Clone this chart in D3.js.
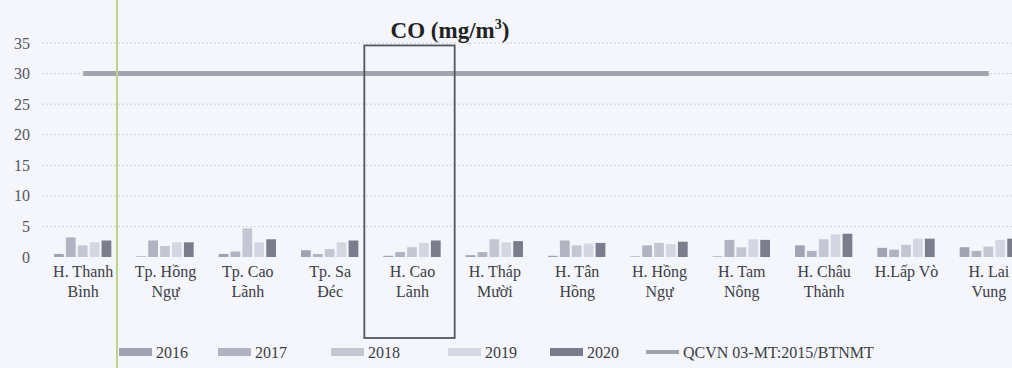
<!DOCTYPE html>
<html>
<head>
<meta charset="utf-8">
<script src="https://cdn.jsdelivr.net/npm/d3@7"></script>
<style>
  body { margin: 0; background: #f3f5fa; }
  svg { display: block; font-family: "Liberation Serif", "DejaVu Serif", serif; }
</style>
</head>
<body>
<div class="chart"></div>
<script>
// ======= CO concentration by district, 2016-2020 ===========

const categories = ['H. Thanh Bình', 'Tp. Hồng Ngự', 'Tp. Cao Lãnh', 'Tp. Sa Đéc', 'H. Cao Lãnh',
  'H. Tháp Mười', 'H. Tân Hồng', 'H. Hồng Ngự', 'H. Tam Nông', 'H. Châu Thành', 'H.Lấp Vò', 'H. Lai Vung']
const years = ['2016', '2017', '2018', '2019', '2020']
const v2016 = [0.5, 0.1, 0.5, 1.1, 0.2, 0.3, 0.2, 0.1, 0.1, 1.9, 1.5, 1.6]
const v2017 = [3.2, 2.7, 0.9, 0.5, 0.8, 0.8, 2.7, 1.9, 2.8, 1.0, 1.2, 1.0]
const v2018 = [1.9, 1.8, 4.7, 1.3, 1.6, 2.9, 1.9, 2.3, 1.6, 2.9, 2.0, 1.7]
const v2019 = [2.4, 2.4, 2.4, 2.4, 2.3, 2.4, 2.2, 2.1, 2.9, 3.7, 3.0, 2.8]
const v2020 = [2.7, 2.4, 2.9, 2.7, 2.7, 2.6, 2.3, 2.5, 2.8, 3.8, 3.0, 3.0]
const qcvn = 30
const yTicks = [0, 5, 10, 15, 20, 25, 30, 35]
const highlighted = 'H. Cao Lãnh'

const series = [v2016, v2017, v2018, v2019, v2020]
const colors = ['#a2a2b2', '#b2b2c0', '#c6c6d2', '#d6d6e2', '#7c7c8c']
const textColor = '#3c3c46'

const W = 1012
const H = 368
const margin = { top: 42, left: 42, bottom: 111 }
const plotRight = 1030
const baseY = H - margin.bottom

const svg = d3.select('.chart')
  .append('svg')
    .attr('width', W)
    .attr('height', H)

svg.append('rect').attr('width', W).attr('height', H).attr('fill', '#f4f6fb')

const x = d3.scaleBand()
  .domain(categories)
  .range([margin.left, plotRight])

const x1 = d3.scaleBand()
  .domain(years)
  .range([12, x.bandwidth() - 13])
  .paddingInner(0.18)

const y = d3.scaleLinear()
  .domain([0, 35])
  .range([baseY, 43])

// gridlines
svg.append('g')
  .selectAll('line')
  .data(yTicks.filter(d => d > 0))
  .join('line')
    .attr('x1', margin.left)
    .attr('x2', W)
    .attr('y1', d => y(d))
    .attr('y2', d => y(d))
    .attr('stroke', '#cdd1de')
    .attr('stroke-dasharray', '2,2')

// y axis
const yAxis = svg.append('g')
  .attr('transform', `translate(${margin.left - 12}, 0)`)
  .call(d3.axisLeft(y).tickValues(yTicks).tickSize(0).tickPadding(0))
yAxis.attr('font-family', null)
yAxis.select('.domain').remove()
yAxis.selectAll('text')
  .attr('font-size', 16)
  .attr('fill', '#55555f')

// bars
const groups = svg.append('g')
  .selectAll('g')
  .data(series)
  .join('g')
    .attr('fill', (d, i) => colors[i])

groups.selectAll('rect')
  .data((d, i) => d.map((v, j) => ({ cat: categories[j], year: years[i], v })))
  .join('rect')
    .attr('x', d => x(d.cat) + x1(d.year))
    .attr('width', x1.bandwidth())
    .attr('y', d => y(d.v))
    .attr('height', d => baseY - y(d.v))

// QCVN limit line
svg.append('line')
  .attr('x1', x(categories[0]) + x.bandwidth() / 2)
  .attr('x2', x(categories[categories.length - 1]) + x.bandwidth() / 2)
  .attr('y1', y(qcvn))
  .attr('y2', y(qcvn))
  .attr('stroke', '#a4a4b0')
  .attr('stroke-width', 5)

// x axis labels
const xAxis = svg.append('g')
  .attr('transform', `translate(0, ${baseY + 4})`)
  .call(d3.axisBottom(x).tickSize(0).tickPadding(0))
xAxis.attr('font-family', null)
xAxis.select('.domain').remove()
xAxis.selectAll('text')
  .attr('font-size', 16)
  .attr('fill', textColor)
  .call(wrap, 64)

function wrap(texts, width) {
  texts.each(function () {
    const text = d3.select(this)
    const words = text.text().split(/\s+/)
    text.text(null)
    let line = []
    let tspan = text.append('tspan').attr('x', 0).attr('dy', '1.0em')
    words.forEach(w => {
      line.push(w)
      tspan.text(line.join(' '))
      if (tspan.node().getComputedTextLength() > width && line.length > 1) {
        line.pop()
        tspan.text(line.join(' '))
        line = [w]
        tspan = text.append('tspan').attr('x', 0).attr('dy', '1.25em').text(w)
      }
    })
  })
}

// highlight box around one district
svg.append('rect')
  .attr('x', x(highlighted) - 7)
  .attr('y', y(34.6))
  .attr('width', x.bandwidth() + 8)
  .attr('height', 338 - y(34.6))
  .attr('fill', 'none')
  .attr('stroke', '#55555f')
  .attr('stroke-width', 1.8)

// title
svg.append('text')
  .attr('x', 450)
  .attr('y', 38)
  .attr('text-anchor', 'middle')
  .attr('font-size', 23)
  .attr('font-weight', 'bold')
  .attr('fill', '#222')
  .html('CO (mg/m<tspan font-size="14" dy="-9">3</tspan><tspan dy="9">)</tspan>')

// legend
const legendItems = years.map((yr, i) => ({ label: yr, color: colors[i], type: 'bar' }))
legendItems.push({ label: 'QCVN 03-MT:2015/BTNMT', color: '#a4a4b0', type: 'line' })
const legendX = [119, 218, 331, 448, 550, 646]

const legend = svg.append('g')
  .selectAll('g')
  .data(legendItems)
  .join('g')
    .attr('transform', (d, i) => `translate(${legendX[i]}, 352)`)

legend.filter(d => d.type === 'bar')
  .append('rect')
    .attr('x', 0)
    .attr('y', -4)
    .attr('width', 33)
    .attr('height', 8)
    .attr('fill', d => d.color)

legend.filter(d => d.type === 'line')
  .append('line')
    .attr('x1', 0)
    .attr('x2', 33)
    .attr('stroke', d => d.color)
    .attr('stroke-width', 4)

legend.append('text')
  .attr('x', 37)
  .attr('dy', '0.35em')
  .attr('font-size', 16)
  .attr('fill', textColor)
  .text(d => d.label)

// scan artifact: faint vertical green line
svg.append('line')
  .attr('x1', 117).attr('x2', 117)
  .attr('y1', 0).attr('y2', H)
  .attr('stroke', '#bcd48a')
  .attr('stroke-width', 2)
</script>
</body>
</html>
